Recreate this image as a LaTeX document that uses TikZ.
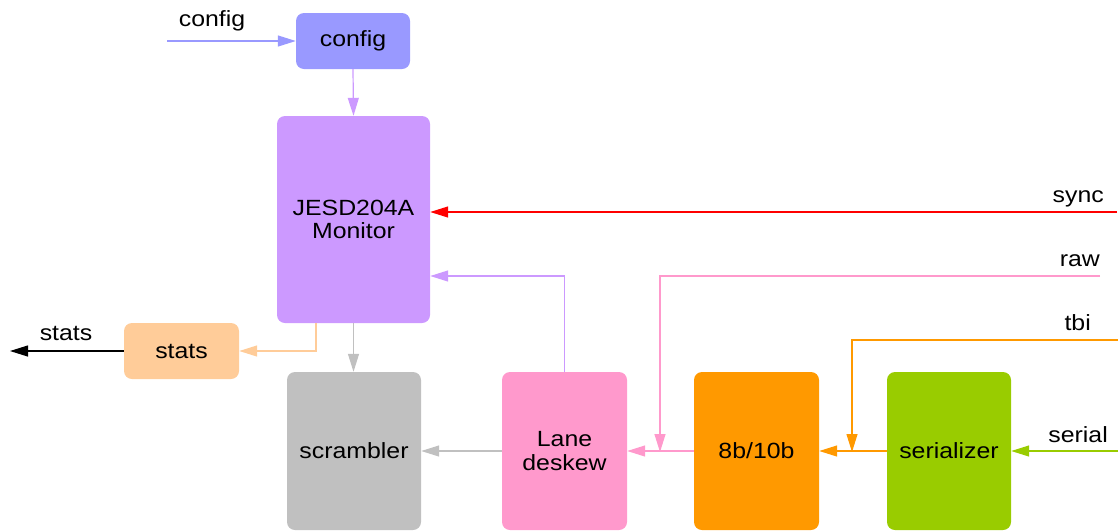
\documentclass[tikz,border=0pt]{standalone}
\usepackage{fontspec}
\setmainfont{Liberation Sans}[FakeStretch=1.13]
\usetikzlibrary{arrows.meta}
\definecolor{cfgblue}{HTML}{9999FF}
\definecolor{monpurple}{HTML}{CC99FF}
\definecolor{statpeach}{HTML}{FFCC99}
\definecolor{scrgray}{HTML}{C0C0C0}
\definecolor{lanepink}{HTML}{FF99CC}
\definecolor{encorange}{HTML}{FF9900}
\definecolor{sergreen}{HTML}{99CC00}
\tikzset{
  blk/.style={rounded corners=8pt, inner sep=0pt, align=center,
    font=\fontsize{22}{23.5}\selectfont},
  lbl/.style={inner sep=0pt, font=\fontsize{22}{23.5}\selectfont},
  wire/.style={line width=1.2pt, -{Triangle[length=18pt,width=11pt]}},
}
\begin{document}
\begin{tikzpicture}[x=1pt,y=-1pt]
\useasboundingbox (0,0) rectangle (1118,531);
\clip (0,0) rectangle (1118,531);

% blocks
\node[blk, fill=cfgblue, minimum width=114, minimum height=56] (cfg) at (353,41) {config};
\node[blk, fill=monpurple, minimum width=153, minimum height=207] (mon) at (353.5,219.5) {JESD204A\\Monitor};
\node[blk, fill=statpeach, minimum width=115, minimum height=56] (stats) at (181.5,351) {stats};
\node[blk, fill=scrgray, minimum width=134, minimum height=158] (scr) at (354,451) {scrambler};
\node[blk, fill=lanepink, minimum width=125, minimum height=158] (lane) at (564.5,451) {Lane\\deskew};
\node[blk, fill=encorange, minimum width=125, minimum height=158] (enc) at (756.5,451) {8b/10b};
\node[blk, fill=sergreen, minimum width=124, minimum height=158] (ser) at (949,451) {serializer};

% free ends of the external signals
\coordinate (cfgin) at (167,41);
\coordinate (syncin) at (1117,212);
\coordinate (rawin) at (1100,276);
\coordinate (tbiin) at (1118,340);
\coordinate (serin) at (1118,451);
\coordinate (statsout) at (10,351);
\coordinate (rawdrop) at (660,451);
\coordinate (tbidrop) at (852,451);

% external labels
\node[lbl, anchor=base] (lcfg) at (212,26) {config};
\node[lbl, anchor=base east] (lsync) at (1104,202) {sync};
\node[lbl, anchor=base east] (lraw) at (1100,266) {raw};
\node[lbl, anchor=base east] (ltbi) at (1091,330) {tbi};
\node[lbl, anchor=base east] (lser) at (1108,442) {serial};
\node[lbl, anchor=base] (lstats) at (66,340) {stats};

% connectors
\draw[wire, cfgblue] (cfgin) -- (cfg.west);
\draw[wire, monpurple] (cfg.south) -- (mon.north);
\draw[wire, red] (syncin) -- (syncin -| mon.east);
\draw[wire, lanepink] (rawin) -- (rawin -| rawdrop) -- ([yshift=-1pt]rawdrop);
\draw[wire, encorange] (tbiin) -- (tbiin -| tbidrop) -- ([yshift=-1pt]tbidrop);
\draw[wire, sergreen] (serin) -- (ser.east);
\draw[wire, encorange] (ser.west) -- (enc.east);
\draw[wire, lanepink] (enc.west) -- (lane.east);
\draw[wire, scrgray] (lane.west) -- (scr.east);
\draw[wire, monpurple] (lane.north) -- (lane.north |- rawin) -- (rawin -| mon.east);
\draw[wire, scrgray] (mon.south) -- (scr.north -| mon.south);
\draw[wire, statpeach] ([xshift=-37.5pt]mon.south) -- ([xshift=-37.5pt]mon.south |- stats.east) -- (stats.east);
\draw[wire, black] (stats.west) -- (statsout);
\end{tikzpicture}
\end{document}
